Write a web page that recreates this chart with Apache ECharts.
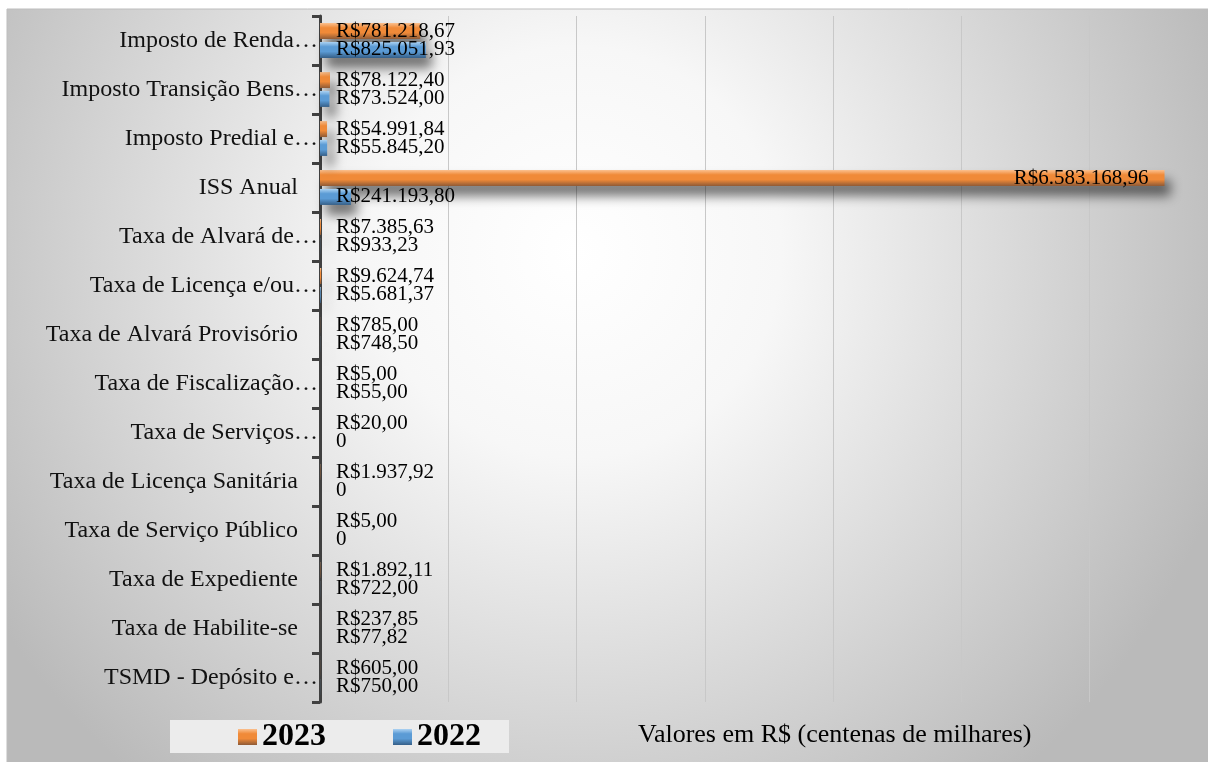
<!DOCTYPE html>
<html>
<head>
<meta charset="utf-8">
<script src="https://cdn.jsdelivr.net/npm/echarts@6/dist/echarts.min.js"></script>
<style>
  html, body { margin: 0; padding: 0; background: #fff; }
  #chart { width: 1208px; height: 762px; }
</style>
</head>
<body>
<div id="chart"></div>
<script>
  // categories, top to bottom
  const categories = [
    'Imposto de Renda…',
    'Imposto Transição Bens…',
    'Imposto Predial e…',
    'ISS Anual',
    'Taxa de Alvará de…',
    'Taxa de Licença e/ou…',
    'Taxa de Alvará Provisório',
    'Taxa de Fiscalização…',
    'Taxa de Serviços…',
    'Taxa de Licença Sanitária',
    'Taxa de Serviço Público',
    'Taxa de Expediente',
    'Taxa de Habilite-se',
    'TSMD - Depósito e…'
  ]
  const values2023 = [781218.67, 78122.40, 54991.84, 6583168.96, 7385.63, 9624.74, 785.00, 5.00, 20.00, 1937.92, 5.00, 1892.11, 237.85, 605.00]
  const values2022 = [825051.93, 73524.00, 55845.20, 241193.80, 933.23, 5681.37, 748.50, 55.00, 0, 0, 0, 722.00, 77.82, 750.00]
  const seriesNames = ['2023', '2022']
  const axisTitle = 'Valores em R$ (centenas de milhares)'

  const serif = '"Liberation Serif", "Times New Roman", serif'

  function brl (v) {
    if (v === 0) return '0'
    let parts = v.toFixed(2).split('.')
    let int = parts[0].replace(/\B(?=(\d{3})+(?!\d))/g, '.')
    return 'R$' + int + ',' + parts[1]
  }

  function barGradient (top, mid, bottom) {
    return new echarts.graphic.LinearGradient(0, 0, 0, 1, [
      { offset: 0, color: top },
      { offset: 0.3, color: mid },
      { offset: 0.6, color: mid },
      { offset: 1, color: bottom }
    ])
  }

  const orange = barGradient('#fbc08e', '#f08a38', '#8e5a36')
  const blue = barGradient('#acd2f2', '#5b9bd5', '#355f88')

  const labelStyle = {
    show: true,
    position: 'insideLeft',
    distance: 16,
    fontFamily: serif,
    fontSize: 21,
    lineHeight: 20,
    color: '#000',
    formatter: p => brl(p.value)
  }

  const shadow = {
    shadowBlur: 12,
    shadowColor: 'rgba(0,0,0,0.55)',
    shadowOffsetX: 6,
    shadowOffsetY: 10
  }

  let chart = echarts.init(document.getElementById('chart'))
  let option = {
    animation: false,
    graphic: [{
      type: 'rect',
      z: -10,
      shape: { x: 7, y: 9, width: 1210, height: 760 },
      style: {
        fill: {
          type: 'radial', x: 0.47, y: 0.32, r: 0.9,
          colorStops: [
            { offset: 0, color: '#ffffff' },
            { offset: 0.3, color: '#f7f7f7' },
            { offset: 1, color: '#bababa' }
          ]
        },
        stroke: '#bdbdbd',
        lineWidth: 1
      }
    }],
    title: {
      text: axisTitle,
      left: 638,
      top: 722,
      padding: 0,
      textStyle: { fontFamily: serif, fontSize: 26, fontWeight: 'normal', color: '#000' }
    },
    legend: {
      data: seriesNames,
      left: 170,
      top: 720,
      padding: [1, 28, 0, 68],
      backgroundColor: '#ececec',
      itemWidth: 19,
      itemHeight: 16,
      itemGap: 67,
      icon: 'rect',
      textStyle: { fontFamily: serif, fontSize: 32, fontWeight: 'bold', color: '#000' }
    },
    grid: { left: 320, top: 16, width: 898, height: 686, outerBoundsMode: 'none' },
    xAxis: {
      type: 'value',
      min: 0,
      max: 7000000,
      interval: 1000000,
      axisLabel: { show: false },
      axisLine: { show: false },
      axisTick: { show: false },
      splitLine: { show: true, lineStyle: { color: '#c8c8c8', width: 1 } }
    },
    yAxis: {
      type: 'category',
      inverse: true,
      data: categories,
      axisLine: { show: true, lineStyle: { color: '#404040', width: 3 } },
      axisTick: { show: true, length: 8, lineStyle: { color: '#404040', width: 3 } },
      splitLine: { show: false },
      axisLabel: {
        margin: 2,
        formatter: v => v.endsWith('…') ? '{t|' + v + '}' : '{n|' + v + '}',
        rich: {
          t: { fontFamily: serif, fontSize: 24, color: '#111' },
          n: { fontFamily: serif, fontSize: 24, color: '#111', padding: [0, 20, 0, 0] }
        }
      }
    },
    series: [
      {
        name: seriesNames[0],
        type: 'bar',
        barWidth: 16,
        barGap: '18%',
        color: orange,
        itemStyle: shadow,
        label: labelStyle,
        data: values2023.map((v, i) => i === 3
          ? { value: v, label: { position: 'insideRight' } }
          : v)
      },
      {
        name: seriesNames[1],
        type: 'bar',
        barWidth: 16,
        barGap: '18%',
        color: blue,
        itemStyle: shadow,
        label: labelStyle,
        data: values2022
      }
    ]
  }
  chart.setOption(option)
</script>
</body>
</html>
